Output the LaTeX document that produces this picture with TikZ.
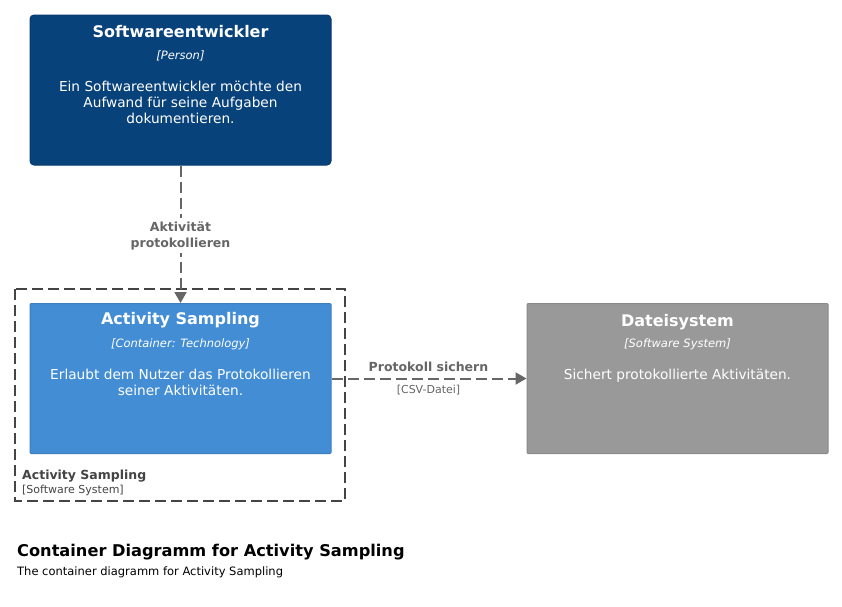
\documentclass[tikz,border=0pt]{standalone}
\usepackage{fontspec}
\setmainfont{DejaVu Sans}
\usetikzlibrary{arrows.meta}
\definecolor{persfill}{HTML}{08427B}
\definecolor{persline}{HTML}{073B6F}
\definecolor{contfill}{HTML}{438DD5}
\definecolor{contline}{HTML}{3C7FC0}
\definecolor{extfill}{HTML}{999999}
\definecolor{extline}{HTML}{8A8A8A}
\definecolor{relcol}{HTML}{666666}
\definecolor{bndcol}{HTML}{444444}
\tikzset{
  box/.style={draw, line width=1pt, minimum width=301pt, minimum height=150pt, inner sep=0pt},
  persbox/.style={box, fill=persfill, draw=persline, rounded corners=4pt},
  contbox/.style={box, fill=contfill, draw=contline, rounded corners=1pt},
  extbox/.style={box, fill=extfill, draw=extline, rounded corners=1pt},
  txt/.style={inner sep=0pt, anchor=base, align=center, text=white},
  ttl/.style={txt, font=\fontsize{16}{19}\selectfont\bfseries},
  typ/.style={txt, font=\fontsize{11.5}{14}\selectfont\itshape},
  dsc/.style={txt, font=\fontsize{13.7}{16}\selectfont},
  rel/.style={draw=relcol, line width=2pt, dash pattern=on 11pt off 5pt, -{Triangle[width=12pt,length=11pt]}},
  rellbl/.style={inner sep=0pt, anchor=base, align=center, text=relcol, font=\fontsize{12.5}{16}\selectfont\bfseries},
  reltech/.style={inner sep=0pt, anchor=base, text=relcol, font=\fontsize{11}{13}\selectfont},
  bnd/.style={draw=bndcol, line width=2pt, dash pattern=on 11pt off 5pt},
}
\begin{document}
\begin{tikzpicture}[x=1pt,y=-1pt]
\useasboundingbox (0,0) rectangle (842,606);
\fill[white] (0,0) rectangle (842,606);
% boundary
\draw[bnd] (15,289) rectangle (345,501) ;
\node[inner sep=0pt, anchor=base west, text=bndcol, font=\fontsize{12.5}{15}\selectfont\bfseries] (bndtitle) at (22,479) {Activity Sampling};
\node[inner sep=0pt, anchor=base west, text=bndcol, font=\fontsize{11}{13}\selectfont] (bndtype) at (22,493) {[Software System]};
% boxes
\node[persbox] (dev) at (180.5,90) {};
\node[contbox] (app) at (180.5,378.5) {};
\node[extbox] (fs) at (677.5,378.5) {};
% texts person
\node[ttl] (devt) at (180.5,37) {Softwareentwickler};
\node[typ] (devk) at (180.5,59) {[Person]};
\node[dsc] (devd) at (180.5,123) {Ein Softwareentwickler möchte den\\Aufwand für seine Aufgaben\\dokumentieren.};
% container
\node[ttl] (appt) at (180.5,324) {Activity Sampling};
\node[typ] (appk) at (180.5,347) {[Container: Technology]};
\node[dsc] (appd) at (180.5,395) {Erlaubt dem Nutzer das Protokollieren\\seiner Aktivitäten.};
% external
\node[ttl] (fst) at (677.5,326) {Dateisystem};
\node[typ] (fsk) at (677.5,347) {[Software System]};
\node[dsc] (fsd) at (677.5,379) {Sichert protokollierte Aktivitäten.};
% relations
\draw[rel] (dev.south) -- (app.north);
\node[rellbl, fill=white, inner ysep=3pt] (r1) at (180.5,247) {Aktivität\\protokollieren};
\draw[rel] (app.east) -- (fs.west);
\node[rellbl] (r2) at (428.5,371) {Protokoll sichern};
\node[reltech] (r2t) at (428.5,393) {[CSV-Datei]};
% title
\node[inner sep=0pt, anchor=base west, font=\fontsize{16.2}{20}\selectfont\bfseries] (title) at (17,556) {Container Diagramm for Activity Sampling};
\node[inner sep=0pt, anchor=base west, font=\fontsize{11.5}{14}\selectfont] (sub) at (17,575) {The container diagramm for Activity Sampling};
\end{tikzpicture}
\end{document}
